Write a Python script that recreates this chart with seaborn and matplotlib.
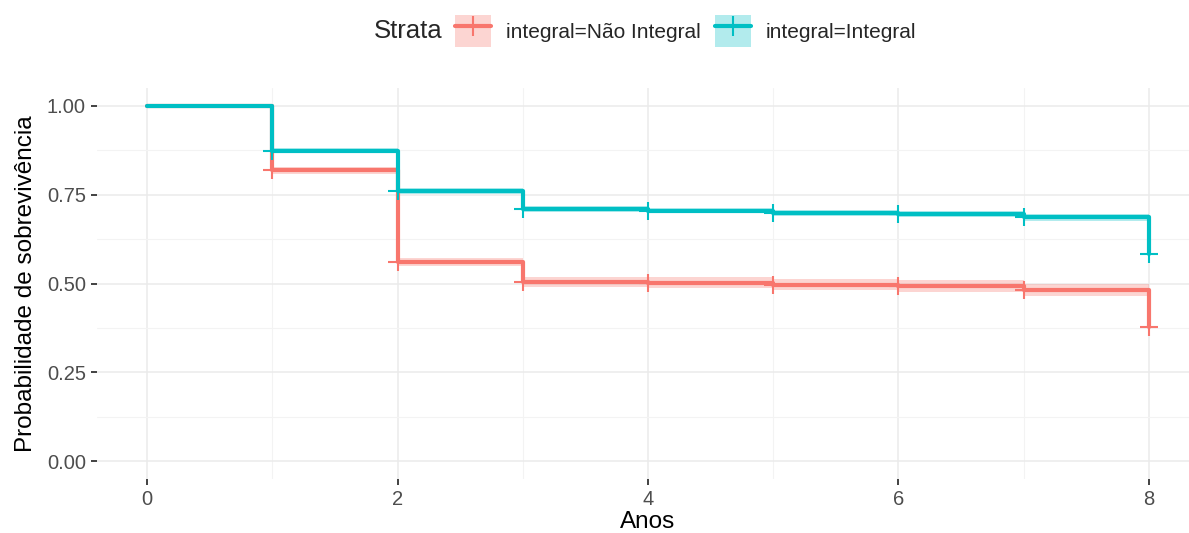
import numpy as np
import pandas as pd
import matplotlib
matplotlib.use("Agg")
import matplotlib.pyplot as plt
from matplotlib.lines import Line2D
from matplotlib.patches import Patch
from matplotlib.legend_handler import HandlerTuple
import seaborn as sns

# Kaplan-Meier estimates by stratum (time in years)
times = [0, 1, 2, 3, 4, 5, 6, 7, 8]
strata_labels = ["integral=Não Integral", "integral=Integral"]

surv_nao_integral = [1.000, 0.819, 0.560, 0.505, 0.502, 0.497, 0.494, 0.482, 0.377]
lower_nao_integral = [1.000, 0.809, 0.548, 0.491, 0.487, 0.481, 0.477, 0.464, 0.359]
upper_nao_integral = [1.000, 0.829, 0.572, 0.519, 0.517, 0.513, 0.511, 0.500, 0.395]

surv_integral = [1.000, 0.874, 0.761, 0.709, 0.705, 0.699, 0.696, 0.686, 0.584]
lower_integral = [1.000, 0.867, 0.753, 0.701, 0.697, 0.691, 0.688, 0.677, 0.574]
upper_integral = [1.000, 0.881, 0.769, 0.717, 0.713, 0.707, 0.704, 0.695, 0.594]

colors = ["#F8766D", "#00BFC4"]

frames = []
for lab, s, lo, hi in [
    (strata_labels[0], surv_nao_integral, lower_nao_integral, upper_nao_integral),
    (strata_labels[1], surv_integral, lower_integral, upper_integral),
]:
    frames.append(pd.DataFrame({"time": times, "surv": s, "lower": lo,
                                "upper": hi, "strata": lab}))
df = pd.concat(frames, ignore_index=True)
censored = df[df["time"] > 0]

sns.set_theme(style="whitegrid")
plt.rcParams["font.family"] = ["Liberation Sans", "DejaVu Sans"]

W, H = 1189, 533
fig = plt.figure(figsize=(W / 100, H / 100), dpi=100)
ax = fig.add_axes([97 / W, 1 - 479 / H, (1199 - 97) / W, (479 - 88) / H])

# confidence ribbons
for lab, col in zip(strata_labels, colors):
    d = df[df["strata"] == lab]
    ax.fill_between(d["time"], d["lower"], d["upper"], step="post",
                    color=col, alpha=0.3, linewidth=0, zorder=2)

sns.lineplot(data=df, x="time", y="surv", hue="strata", hue_order=strata_labels,
             palette=colors, drawstyle="steps-post", linewidth=3.0,
             estimator=None, legend=False, ax=ax, zorder=3)

sns.scatterplot(data=censored, x="time", y="surv", hue="strata",
                hue_order=strata_labels, palette=colors, marker="+", s=170,
                linewidth=1.5, legend=False, ax=ax, zorder=4)

ax.set_xlim(-0.4, 8.4)
ax.set_ylim(-0.05, 1.05)
ax.set_xticks([0, 2, 4, 6, 8])
ax.set_yticks([0, 0.25, 0.5, 0.75, 1.0])
ax.set_yticklabels(["0.00", "0.25", "0.50", "0.75", "1.00"])
ax.set_xticks([1, 3, 5, 7], minor=True)
ax.set_yticks([0.125, 0.375, 0.625, 0.875], minor=True)

ax.set_facecolor("white")
for sp in ax.spines.values():
    sp.set_visible(False)
ax.grid(which="major", color="#EBEBEB", linewidth=1.1)
ax.grid(which="minor", color="#F3F3F3", linewidth=0.8)
ax.set_axisbelow(True)
ax.tick_params(axis="both", which="major", length=4, width=1.3, color="#333333",
               labelsize=14.5, labelcolor="#4D4D4D", pad=4, bottom=True, left=True)
ax.tick_params(axis="both", which="minor", length=0)

ax.set_xlabel("Anos", fontsize=17.5, color="black", labelpad=1)
ax.set_ylabel("Probabilidade de sobrevivência", fontsize=17.5, color="black",
              labelpad=7)

# legend on top: title on the left, entries in one row
fig.text(374 / W, 1 - 31 / H, "Strata", fontsize=18.5, va="center", ha="left")
handles = []
for col in colors:
    patch = Patch(facecolor=col, alpha=0.3, edgecolor="none")
    line = Line2D([], [], color=col, linewidth=3.0, marker="+", markersize=15,
                  markeredgewidth=1.5)
    handles.append((patch, line))
fig.legend(handles, strata_labels, loc="center left",
           bbox_to_anchor=(455 / W, 1 - 31 / H), ncol=2, frameon=False,
           fontsize=15, handlelength=1.73, handleheight=1.95, numpoints=1,
           columnspacing=0.67, handletextpad=0.72, borderpad=0, borderaxespad=0,
           handler_map={tuple: HandlerTuple(ndivide=1, pad=0)})

fig.savefig("out.png", dpi=100)
